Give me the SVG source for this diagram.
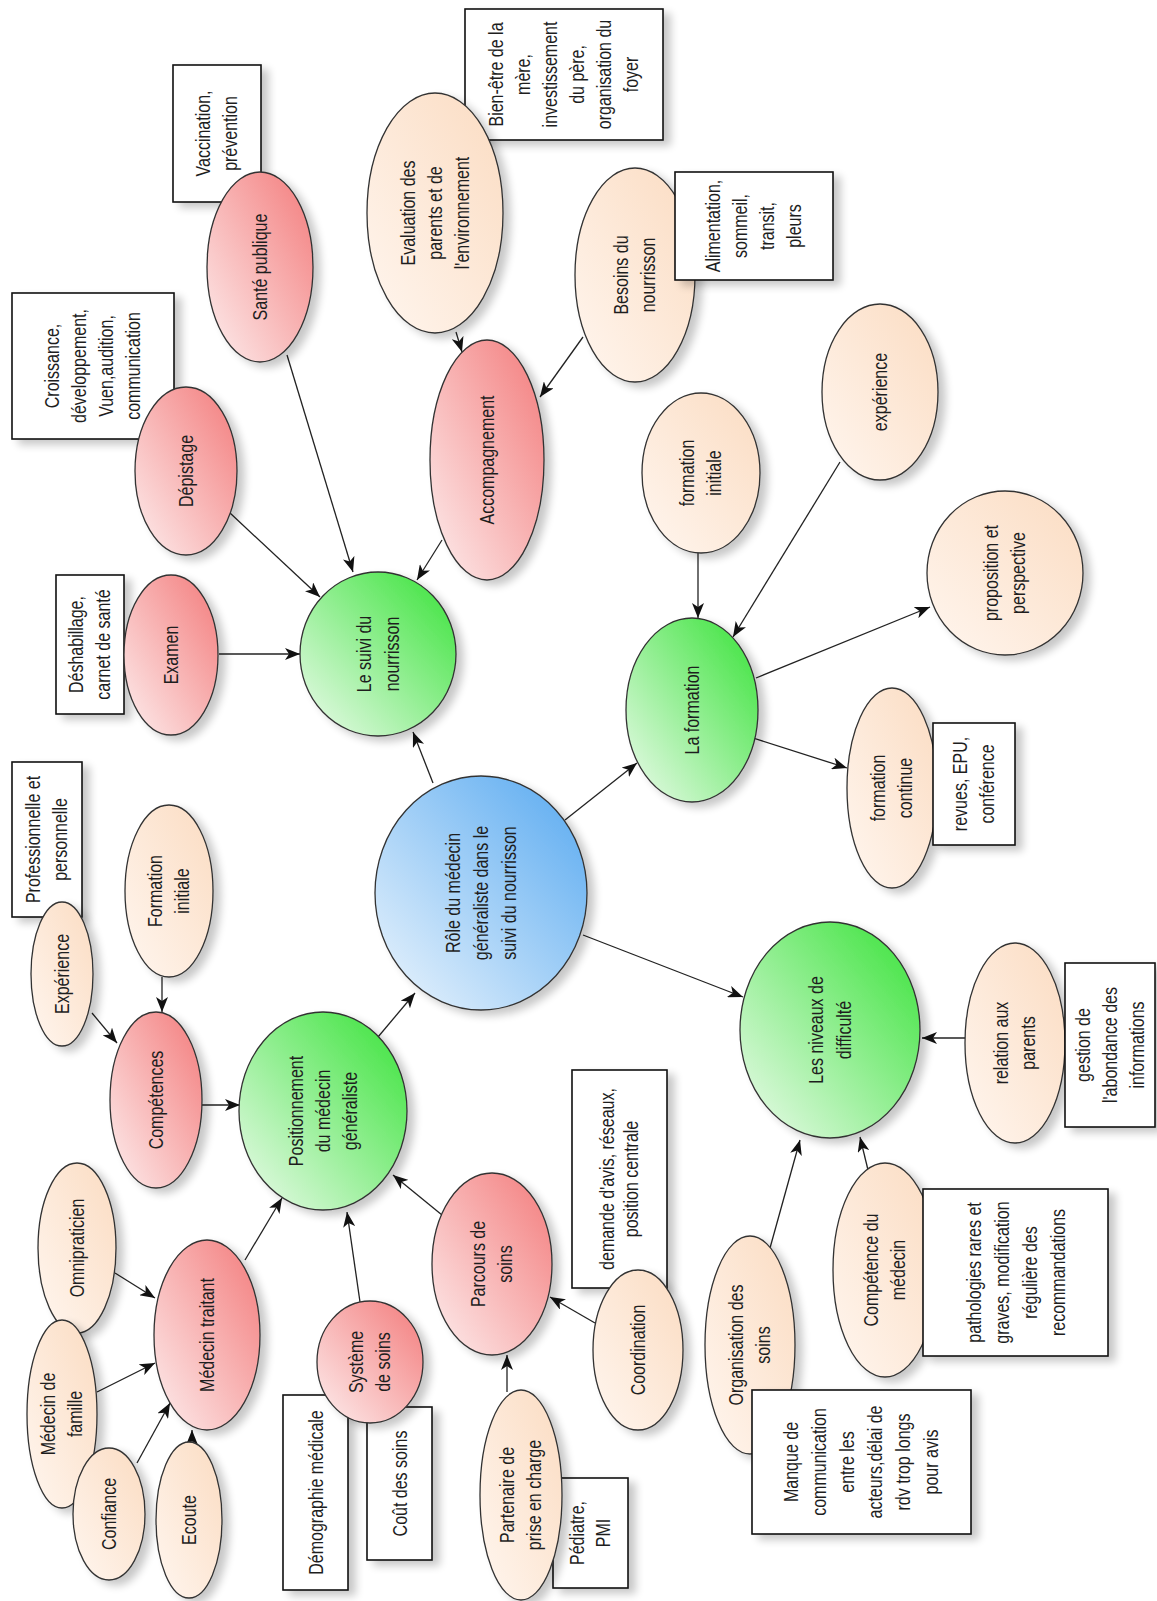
<svg xmlns="http://www.w3.org/2000/svg" width="1157" height="1601" viewBox="0 0 1157 1601">
<defs>
<style>
.t{font-family:"Liberation Sans",Arial,sans-serif;font-size:20px;fill:#1e1e1e;text-anchor:middle}
.n{stroke:#333;stroke-width:1.3}
.red{fill:url(#gRed)}
.grn{fill:url(#gGrn)}
.blu{fill:url(#gBlu)}
.pch{fill:url(#gPch)}
.box{fill:#fff;stroke:#111;stroke-width:1.6}
.c{stroke:#222;stroke-width:1.3;fill:none;marker-end:url(#arr)}
</style>
<linearGradient id="gRed" x1="0" y1="1" x2="1" y2="0"><stop offset="0" stop-color="#fdeeee"/><stop offset="1" stop-color="#f37b7b"/></linearGradient>
<linearGradient id="gGrn" x1="0" y1="1" x2="1" y2="0"><stop offset="0" stop-color="#eefbee"/><stop offset="1" stop-color="#36e236"/></linearGradient>
<linearGradient id="gBlu" x1="0" y1="1" x2="1" y2="0"><stop offset="0" stop-color="#eef6fd"/><stop offset="1" stop-color="#55a8f0"/></linearGradient>
<linearGradient id="gPch" x1="0" y1="1" x2="1" y2="0"><stop offset="0" stop-color="#fff6ef"/><stop offset="1" stop-color="#fbdcc2"/></linearGradient>
<filter id="sh" x="-20%" y="-20%" width="150%" height="150%"><feGaussianBlur in="SourceAlpha" stdDeviation="4"/><feOffset dx="7" dy="5" result="b"/><feComponentTransfer><feFuncA type="linear" slope="0.22"/></feComponentTransfer><feMerge><feMergeNode/><feMergeNode in="SourceGraphic"/></feMerge></filter>
<marker id="arr" markerUnits="userSpaceOnUse" markerWidth="16" markerHeight="12" viewBox="0 0 16 12" refX="15" refY="6" orient="auto"><path d="M0,0 L15,6 L0,12 L4,6 z" fill="#111"/></marker>
</defs>
<rect width="1157" height="1601" fill="#fff"/>

<g id="connectors">
<line class="c" x1="219" y1="654" x2="300" y2="654"/>
<line class="c" x1="230" y1="513" x2="320" y2="597"/>
<line class="c" x1="287" y1="355" x2="353" y2="572"/>
<line class="c" x1="442" y1="540" x2="417" y2="580"/>
<line class="c" x1="456" y1="332" x2="462" y2="352"/>
<line class="c" x1="583" y1="337" x2="540" y2="397"/>
<line class="c" x1="433" y1="783" x2="413" y2="732"/>
<line class="c" x1="565" y1="820" x2="637" y2="763"/>
<line class="c" x1="698" y1="552" x2="698" y2="618"/>
<line class="c" x1="840" y1="462" x2="733" y2="637"/>
<line class="c" x1="756" y1="678" x2="930" y2="607"/>
<line class="c" x1="750" y1="737" x2="847" y2="768"/>
<line class="c" x1="583" y1="935" x2="743" y2="997"/>
<line class="c" x1="965" y1="1038" x2="922" y2="1038"/>
<line class="c" x1="770" y1="1248" x2="800" y2="1140"/>
<line class="c" x1="868" y1="1170" x2="860" y2="1137"/>
<line class="c" x1="378" y1="1037" x2="415" y2="993"/>
<line class="c" x1="202" y1="1105" x2="240" y2="1105"/>
<line class="c" x1="92" y1="1013" x2="117" y2="1043"/>
<line class="c" x1="162" y1="977" x2="162" y2="1012"/>
<line class="c" x1="245" y1="1260" x2="282" y2="1198"/>
<line class="c" x1="360" y1="1302" x2="347" y2="1212"/>
<line class="c" x1="442" y1="1215" x2="393" y2="1175"/>
<line class="c" x1="115" y1="1273" x2="155" y2="1298"/>
<line class="c" x1="97" y1="1392" x2="155" y2="1363"/>
<line class="c" x1="137" y1="1463" x2="170" y2="1403"/>
<line class="c" x1="192" y1="1445" x2="192" y2="1430"/>
<line class="c" x1="595" y1="1323" x2="550" y2="1297"/>
<line class="c" x1="507" y1="1392" x2="507" y2="1355"/>
</g>

<g id="box-vaccination"><rect class="box" filter="url(#sh)" x="173" y="65" width="88" height="137"/>
<text class="t" transform="translate(217,133.5) rotate(-90) scale(0.8,1)"><tspan x="0" dy="-7">Vaccination,</tspan><tspan x="0" dy="27">prévention</tspan></text></g>
<g id="box-croissance"><rect class="box" filter="url(#sh)" x="12" y="293" width="162" height="146"/>
<text class="t" transform="translate(93,366) rotate(-90) scale(0.8,1)"><tspan x="0" dy="-34">Croissance,</tspan><tspan x="0" dy="27">développement,</tspan><tspan x="0" dy="27">Vuen,audition,</tspan><tspan x="0" dy="27">communication</tspan></text></g>
<g id="box-deshabillage"><rect class="box" filter="url(#sh)" x="56" y="575" width="68" height="139"/>
<text class="t" transform="translate(90,644.5) rotate(-90) scale(0.8,1)"><tspan x="0" dy="-7">Déshabillage,</tspan><tspan x="0" dy="27">carnet de santé</tspan></text></g>
<g id="box-bienetre"><rect class="box" filter="url(#sh)" x="465" y="9" width="198" height="131"/>
<text class="t" transform="translate(564,74.5) rotate(-90) scale(0.8,1)"><tspan x="0" dy="-61">Bien-être de la</tspan><tspan x="0" dy="27">mère,</tspan><tspan x="0" dy="27">investissement</tspan><tspan x="0" dy="27">du père,</tspan><tspan x="0" dy="27">organisation du</tspan><tspan x="0" dy="27">foyer</tspan></text></g>
<g id="box-professionnelle"><rect class="box" filter="url(#sh)" x="12" y="762" width="70" height="155"/>
<text class="t" transform="translate(47,839.5) rotate(-90) scale(0.8,1)"><tspan x="0" dy="-7">Professionnelle et</tspan><tspan x="0" dy="27">personnelle</tspan></text></g>
<g id="box-demographie"><rect class="box" filter="url(#sh)" x="283" y="1395" width="65" height="195"/>
<text class="t" transform="translate(315.5,1492.5) rotate(-90) scale(0.8,1)"><tspan x="0" dy="7">Démographie médicale</tspan></text></g>
<g id="box-cout"><rect class="box" filter="url(#sh)" x="367" y="1407" width="65" height="153"/>
<text class="t" transform="translate(399.5,1483.5) rotate(-90) scale(0.8,1)"><tspan x="0" dy="7">Coût des soins</tspan></text></g>
<g id="box-pediatre"><rect class="box" filter="url(#sh)" x="553" y="1478" width="75" height="110"/>
<text class="t" transform="translate(590.5,1533) rotate(-90) scale(0.8,1)"><tspan x="0" dy="-7">Pédiatre,</tspan><tspan x="0" dy="27">PMI</tspan></text></g>
<g id="box-demande"><rect class="box" filter="url(#sh)" x="572" y="1070" width="95" height="218"/>
<text class="t" transform="translate(619.5,1179) rotate(-90) scale(0.8,1)"><tspan x="0" dy="-6">demande d'avis, réseaux,</tspan><tspan x="0" dy="25">position centrale</tspan></text></g>

<g id="sante-publique"><ellipse class="n red" filter="url(#sh)" cx="260" cy="267" rx="53" ry="95"/>
<text class="t" transform="translate(260,267) rotate(-90) scale(0.8,1)"><tspan x="0" dy="7">Santé publique</tspan></text></g>
<g id="depistage"><ellipse class="n red" filter="url(#sh)" cx="186" cy="471" rx="51" ry="84"/>
<text class="t" transform="translate(186,471) rotate(-90) scale(0.8,1)"><tspan x="0" dy="7">Dépistage</tspan></text></g>
<g id="examen"><ellipse class="n red" filter="url(#sh)" cx="171" cy="655" rx="47" ry="80"/>
<text class="t" transform="translate(171,655) rotate(-90) scale(0.8,1)"><tspan x="0" dy="7">Examen</tspan></text></g>
<g id="accompagnement"><ellipse class="n red" filter="url(#sh)" cx="487" cy="460" rx="57" ry="120"/>
<text class="t" transform="translate(487,460) rotate(-90) scale(0.8,1)"><tspan x="0" dy="7">Accompagnement</tspan></text></g>
<g id="competences"><ellipse class="n red" filter="url(#sh)" cx="156" cy="1100" rx="46" ry="88"/>
<text class="t" transform="translate(156,1100) rotate(-90) scale(0.8,1)"><tspan x="0" dy="7">Compétences</tspan></text></g>
<g id="medecin-traitant"><ellipse class="n red" filter="url(#sh)" cx="207" cy="1335" rx="53" ry="95"/>
<text class="t" transform="translate(207,1335) rotate(-90) scale(0.8,1)"><tspan x="0" dy="7">Médecin traitant</tspan></text></g>
<g id="systeme-soins"><ellipse class="n red" filter="url(#sh)" cx="370" cy="1362" rx="53" ry="61"/>
<text class="t" transform="translate(370,1362) rotate(-90) scale(0.8,1)"><tspan x="0" dy="-7">Système</tspan><tspan x="0" dy="27">de soins</tspan></text></g>
<g id="parcours-soins"><ellipse class="n red" filter="url(#sh)" cx="492" cy="1264" rx="60" ry="91"/>
<text class="t" transform="translate(492,1264) rotate(-90) scale(0.8,1)"><tspan x="0" dy="-7">Parcours de</tspan><tspan x="0" dy="27">soins</tspan></text></g>

<g id="suivi-nourrisson"><ellipse class="n grn" filter="url(#sh)" cx="378" cy="654" rx="78" ry="82"/>
<text class="t" transform="translate(378,654) rotate(-90) scale(0.8,1)"><tspan x="0" dy="-7">Le suivi du</tspan><tspan x="0" dy="28">nourrisson</tspan></text></g>
<g id="la-formation"><ellipse class="n grn" filter="url(#sh)" cx="692" cy="710" rx="66" ry="92"/>
<text class="t" transform="translate(692,710) rotate(-90) scale(0.8,1)"><tspan x="0" dy="7">La formation</tspan></text></g>
<g id="positionnement"><ellipse class="n grn" filter="url(#sh)" cx="323" cy="1111" rx="84" ry="99"/>
<text class="t" transform="translate(323,1111) rotate(-90) scale(0.8,1)"><tspan x="0" dy="-20">Positionnement</tspan><tspan x="0" dy="27">du médecin</tspan><tspan x="0" dy="27">généraliste</tspan></text></g>
<g id="niveaux-difficulte"><ellipse class="n grn" filter="url(#sh)" cx="830" cy="1030" rx="90" ry="108"/>
<text class="t" transform="translate(830,1030) rotate(-90) scale(0.8,1)"><tspan x="0" dy="-7">Les niveaux de</tspan><tspan x="0" dy="28">difficulté</tspan></text></g>

<g id="role-medecin"><ellipse class="n blu" filter="url(#sh)" cx="481" cy="893" rx="106" ry="117"/>
<text class="t" transform="translate(481,893) rotate(-90) scale(0.8,1)"><tspan x="0" dy="-21">Rôle du médecin</tspan><tspan x="0" dy="28">généraliste dans le</tspan><tspan x="0" dy="28">suivi du nourrisson</tspan></text></g>

<g id="evaluation"><ellipse class="n pch" filter="url(#sh)" cx="435" cy="213" rx="68" ry="120"/>
<text class="t" transform="translate(435,213) rotate(-90) scale(0.8,1)"><tspan x="0" dy="-20">Evaluation des</tspan><tspan x="0" dy="27">parents et de</tspan><tspan x="0" dy="27">l'environnement</tspan></text></g>
<g id="besoins"><ellipse class="n pch" filter="url(#sh)" cx="635" cy="275" rx="60" ry="107"/>
<text class="t" transform="translate(635,275) rotate(-90) scale(0.8,1)"><tspan x="0" dy="-7">Besoins du</tspan><tspan x="0" dy="27">nourrisson</tspan></text></g>
<g id="formation-initiale-f"><ellipse class="n pch" filter="url(#sh)" cx="701" cy="473" rx="59" ry="80"/>
<text class="t" transform="translate(701,473) rotate(-90) scale(0.8,1)"><tspan x="0" dy="-7">formation</tspan><tspan x="0" dy="27">initiale</tspan></text></g>
<g id="experience-f"><ellipse class="n pch" filter="url(#sh)" cx="880" cy="392" rx="58" ry="88"/>
<text class="t" transform="translate(880,392) rotate(-90) scale(0.8,1)"><tspan x="0" dy="7">expérience</tspan></text></g>
<g id="proposition"><ellipse class="n pch" filter="url(#sh)" cx="1005" cy="573" rx="78" ry="82"/>
<text class="t" transform="translate(1005,573) rotate(-90) scale(0.8,1)"><tspan x="0" dy="-7">proposition et</tspan><tspan x="0" dy="27">perspective</tspan></text></g>
<g id="formation-continue"><ellipse class="n pch" filter="url(#sh)" cx="892" cy="788" rx="45" ry="100"/>
<text class="t" transform="translate(892,788) rotate(-90) scale(0.8,1)"><tspan x="0" dy="-7">formation</tspan><tspan x="0" dy="27">continue</tspan></text></g>
<g id="relation-parents"><ellipse class="n pch" filter="url(#sh)" cx="1015" cy="1043" rx="50" ry="100"/>
<text class="t" transform="translate(1015,1043) rotate(-90) scale(0.8,1)"><tspan x="0" dy="-7">relation aux</tspan><tspan x="0" dy="27">parents</tspan></text></g>
<g id="competence-medecin"><ellipse class="n pch" filter="url(#sh)" cx="885" cy="1270" rx="52" ry="107"/>
<text class="t" transform="translate(885,1270) rotate(-90) scale(0.8,1)"><tspan x="0" dy="-7">Compétence du</tspan><tspan x="0" dy="27">médecin</tspan></text></g>
<g id="organisation-soins"><ellipse class="n pch" filter="url(#sh)" cx="750" cy="1345" rx="45" ry="109"/>
<text class="t" transform="translate(750,1345) rotate(-90) scale(0.8,1)"><tspan x="0" dy="-7">Organisation des</tspan><tspan x="0" dy="27">soins</tspan></text></g>
<g id="coordination"><ellipse class="n pch" filter="url(#sh)" cx="638" cy="1350" rx="45" ry="80"/>
<text class="t" transform="translate(638,1350) rotate(-90) scale(0.8,1)"><tspan x="0" dy="7">Coordination</tspan></text></g>
<g id="partenaire"><ellipse class="n pch" filter="url(#sh)" cx="521" cy="1495" rx="41" ry="105"/>
<text class="t" transform="translate(521,1495) rotate(-90) scale(0.8,1)"><tspan x="0" dy="-7">Partenaire de</tspan><tspan x="0" dy="27">prise en charge</tspan></text></g>
<g id="experience"><ellipse class="n pch" filter="url(#sh)" cx="62" cy="974" rx="31" ry="72"/>
<text class="t" transform="translate(62,974) rotate(-90) scale(0.8,1)"><tspan x="0" dy="7">Expérience</tspan></text></g>
<g id="formation-initiale"><ellipse class="n pch" filter="url(#sh)" cx="169" cy="891" rx="44" ry="86"/>
<text class="t" transform="translate(169,891) rotate(-90) scale(0.8,1)"><tspan x="0" dy="-7">Formation</tspan><tspan x="0" dy="27">initiale</tspan></text></g>
<g id="omnipraticien"><ellipse class="n pch" filter="url(#sh)" cx="77" cy="1248" rx="39" ry="85"/>
<text class="t" transform="translate(77,1248) rotate(-90) scale(0.8,1)"><tspan x="0" dy="7">Omnipraticien</tspan></text></g>
<g id="medecin-famille"><ellipse class="n pch" filter="url(#sh)" cx="62" cy="1414" rx="35" ry="94"/>
<text class="t" transform="translate(62,1414) rotate(-90) scale(0.8,1)"><tspan x="0" dy="-7">Médecin de</tspan><tspan x="0" dy="27">famille</tspan></text></g>
<g id="confiance"><ellipse class="n pch" filter="url(#sh)" cx="109" cy="1514" rx="36" ry="66"/>
<text class="t" transform="translate(109,1514) rotate(-90) scale(0.8,1)"><tspan x="0" dy="7">Confiance</tspan></text></g>
<g id="ecoute"><ellipse class="n pch" filter="url(#sh)" cx="189" cy="1520" rx="33" ry="78"/>
<text class="t" transform="translate(189,1520) rotate(-90) scale(0.8,1)"><tspan x="0" dy="7">Ecoute</tspan></text></g>

<g id="box-alimentation"><rect class="box" filter="url(#sh)" x="675" y="172" width="158" height="108"/>
<text class="t" transform="translate(754,226) rotate(-90) scale(0.8,1)"><tspan x="0" dy="-34">Alimentation,</tspan><tspan x="0" dy="27">sommeil,</tspan><tspan x="0" dy="27">transit,</tspan><tspan x="0" dy="27">pleurs</tspan></text></g>
<g id="box-revues"><rect class="box" filter="url(#sh)" x="933" y="723" width="82" height="122"/>
<text class="t" transform="translate(974,784) rotate(-90) scale(0.8,1)"><tspan x="0" dy="-7">revues, EPU,</tspan><tspan x="0" dy="27">conférence</tspan></text></g>
<g id="box-gestion"><rect class="box" filter="url(#sh)" x="1065" y="963" width="90" height="164"/>
<text class="t" transform="translate(1110,1045) rotate(-90) scale(0.8,1)"><tspan x="0" dy="-20">gestion de</tspan><tspan x="0" dy="27">l'abondance des</tspan><tspan x="0" dy="27">informations</tspan></text></g>
<g id="box-pathologies"><rect class="box" filter="url(#sh)" x="923" y="1189" width="185" height="167"/>
<text class="t" transform="translate(1015,1272.5) rotate(-90) scale(0.8,1)"><tspan x="0" dy="-34">pathologies rares et</tspan><tspan x="0" dy="28">graves, modification</tspan><tspan x="0" dy="28">régulière des</tspan><tspan x="0" dy="28">recommandations</tspan></text></g>
<g id="box-manque"><rect class="box" filter="url(#sh)" x="752" y="1390" width="219" height="144"/>
<text class="t" transform="translate(861,1462) rotate(-90) scale(0.8,1)"><tspan x="0" dy="-63">Manque de</tspan><tspan x="0" dy="28">communication</tspan><tspan x="0" dy="28">entre les</tspan><tspan x="0" dy="28">acteurs,délai de</tspan><tspan x="0" dy="28">rdv trop longs</tspan><tspan x="0" dy="28">pour avis</tspan></text></g>
</svg>
